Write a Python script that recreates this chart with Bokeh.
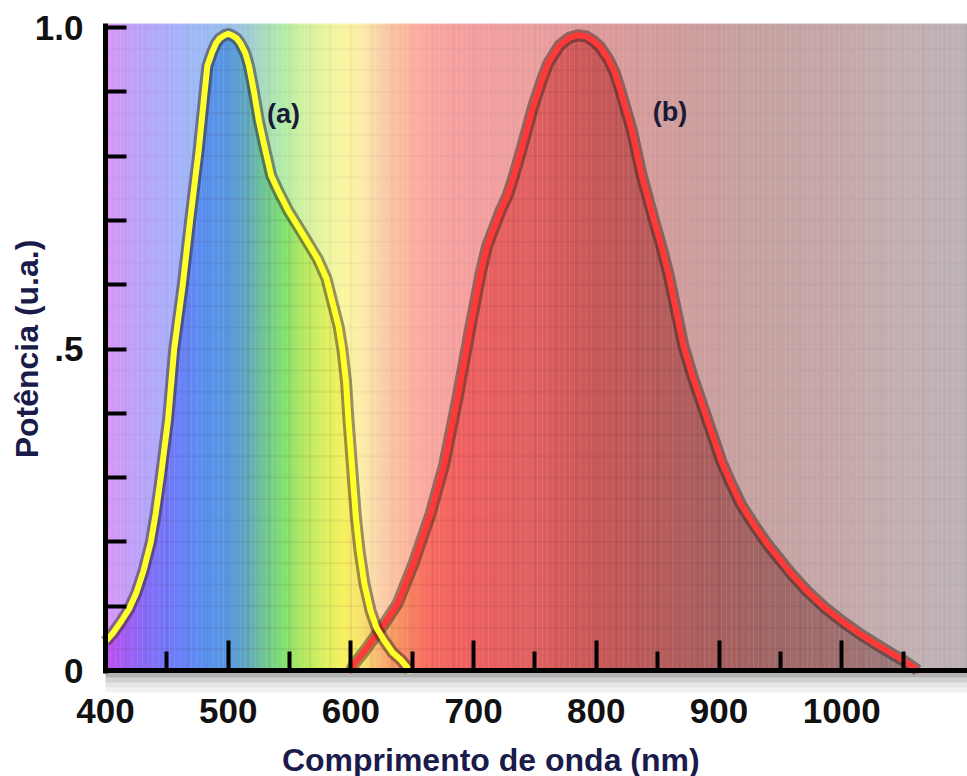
import numpy as np
from bokeh.plotting import figure
from bokeh.models import Range1d, FixedTicker, Label
from bokeh.embed import file_html
from bokeh.resources import INLINE

# ---------------- data ----------------
a_nm = [400, 406, 413, 419, 425, 431, 437, 441, 445, 451, 456, 463, 469, 476, 480, 483, 487, 490, 493, 497, 500,
        503, 507, 510, 514, 517, 521, 525, 529, 535, 541, 549, 559, 573, 580, 586, 590, 593, 596, 598, 600, 602,
        604, 607, 611, 616, 621, 627, 634, 641, 648]
a_pow = [0.045, 0.058, 0.077, 0.095, 0.12, 0.155, 0.20, 0.245, 0.30, 0.39, 0.50, 0.60, 0.70, 0.81, 0.885, 0.94, 0.962, 0.975, 0.983, 0.988, 0.99,
         0.988, 0.983, 0.975, 0.96, 0.94, 0.90, 0.855, 0.82, 0.77, 0.745, 0.715, 0.684, 0.64, 0.61, 0.565, 0.535, 0.50, 0.45, 0.39, 0.34, 0.29,
         0.24, 0.187, 0.135, 0.093, 0.066, 0.047, 0.028, 0.016, 0.0]

b_nm = [600, 603, 611, 619, 628, 638, 651, 665, 676, 687, 697, 706, 711, 717, 722, 728, 733, 739, 749, 756, 761, 770, 778, 785,
        792, 797, 803, 810, 815, 820, 829, 837, 847, 853, 859, 865, 871, 878, 886, 894, 902, 910, 918, 929, 940, 959, 972,
        986, 1000, 1014, 1028, 1041, 1050, 1057, 1062]
b_pow = [0.0, 0.011, 0.03, 0.051, 0.075, 0.104, 0.166, 0.244, 0.32, 0.425, 0.53, 0.62, 0.66, 0.69, 0.715, 0.74, 0.77, 0.81, 0.88, 0.92, 0.945, 0.972, 0.984, 0.988,
         0.986, 0.98, 0.97, 0.95, 0.93, 0.90, 0.84, 0.77, 0.70, 0.66, 0.615, 0.56, 0.505, 0.46, 0.415, 0.37, 0.325, 0.29, 0.258, 0.225, 0.195, 0.15, 0.123,
         0.098, 0.077, 0.058, 0.041, 0.026, 0.016, 0.007, 0.0]

x_ticks = [400, 500, 600, 700, 800, 900, 1000]
x_minor = [450, 550, 650, 750, 850, 950, 1050]
y_ticks = [0, 0.5, 1.0]
y_tick_text = ["0", ".5", "1.0"]
y_minor = [0.1, 0.2, 0.3, 0.4, 0.6, 0.7, 0.8, 0.9]

curve_names = ["(a)", "(b)"]
name_nm = [545, 860]
name_pow = [0.866, 0.869]

x_title = "Comprimento de onda (nm)"
y_title = "Potência (u.a.)"

# spectrum colour stops (style)
spec_nm = [400, 430, 460, 480, 500, 515, 530, 545, 560, 580, 595, 610, 625, 640, 660, 690,
           750, 800, 850, 900, 950, 1000, 1050, 1104]
spec_col = ["#c050f0", "#8a6af8", "#6a80f8", "#5a90f0", "#5898e0", "#60a8c0", "#70c890", "#80e070",
            "#b0e860", "#e0f060", "#f8f060", "#f8e070", "#f8b070", "#f89060", "#f87060", "#f06060",
            "#e06060", "#c85858", "#b85c5c", "#a86060", "#a06868", "#a07070", "#9c7c80", "#908088"]

# ---------------- layout (frame = whole canvas, axes pinned) ----------------
W, H = 967, 776
PX_NM = 1.227           # pixels per nm
PX_UNIT = 643.0         # pixels per unit of power
LEFT_PX, ZERO_PX = 105, 670
XS = 400 - LEFT_PX / PX_NM
XE = XS + W / PX_NM
YE = 1 + (ZERO_PX - PX_UNIT) / PX_UNIT
YS = -(H - ZERO_PX) / PX_UNIT
X0, X1 = 400, XE
Y0, Y1 = 0, 1.006
FONT = "Liberation Sans"
TITLE_COL = "#1b1b4b"

p = figure(width=W, height=H, output_backend="svg", toolbar_location=None,
           x_range=Range1d(XS, XE), y_range=Range1d(YS, YE),
           min_border=0, min_border_left=0, min_border_right=0, min_border_top=0, min_border_bottom=0)
p.outline_line_color = None
p.background_fill_color = "white"
p.border_fill_color = "white"
p.xgrid.visible = False
p.ygrid.visible = False

# spectrum background strips
rgb = np.array([[int(c[i:i + 2], 16) for i in (1, 3, 5)] for c in spec_col], dtype=float)
edges = np.arange(X0, X1 + 2, 2.0)
mids = (edges[:-1] + edges[1:]) / 2
cols = []
for m in mids:
    r, g, b = (np.interp(m, spec_nm, rgb[:, k]) for k in range(3))
    cols.append("#%02x%02x%02x" % (int(r), int(g), int(b)))
p.quad(left=edges[:-1], right=edges[1:] + 0.3, bottom=Y0, top=Y1, fill_color=cols, line_color=None)

# faint grid
gx = np.arange(X0, X1, 100 / 6)
p.segment(x0=gx, y0=Y0, x1=gx, y1=Y1, line_color="#402030", line_alpha=0.07, line_width=2)
gy = np.arange(0, Y1, 1 / 30)
p.segment(x0=X0, y0=gy, x1=X1, y1=gy, line_color="#402030", line_alpha=0.07, line_width=2)

# whitish veil above both curves
env_x = np.union1d(np.arange(X0, X1 + 1, 1.0), np.union1d(a_nm, b_nm))
env_x = env_x[env_x <= X1]
env_y = np.maximum(np.interp(env_x, a_nm, a_pow, left=0, right=0),
                   np.interp(env_x, b_nm, b_pow, left=0, right=0))
p.varea(x=env_x, y1=env_y, y2=Y1, fill_color="white", fill_alpha=0.4)

# soft shadow below the x axis
for k, al in enumerate([0.30, 0.18, 0.10, 0.05]):
    p.quad(left=X0, right=X1, top=-(2.0 + 5 * k) / PX_UNIT, bottom=-(7.0 + 5 * k) / PX_UNIT,
           fill_color="#000000", fill_alpha=al, line_color=None)

# curves with dark halo
for xs, ys, col in ((b_nm, b_pow, "#ff3838"), (a_nm, a_pow, "#ffff2a")):
    p.line(xs, ys, line_color="#2a1a10", line_alpha=0.45, line_width=12, line_join="round")
    p.line(xs, ys, line_color=col, line_width=6, line_join="round", line_cap="round")

for t, xx, yy in zip(curve_names, name_nm, name_pow):
    p.add_layout(Label(x=xx, y=yy, text=t, text_font=FONT, text_font_style="bold",
                       text_font_size="27px", text_color="#1a1a36",
                       text_align="center", text_baseline="middle"))

# axes (library axes, pinned at the data origin)
xa = p.xaxis[0]
xa.fixed_location = 0
xa.bounds = (X0 - 2, X1)
xa.ticker = FixedTicker(ticks=x_ticks, minor_ticks=x_minor)
xa.axis_line_width = 5
xa.axis_line_color = "black"
xa.major_tick_in = 30
xa.major_tick_out = 0
xa.minor_tick_in = 19
xa.minor_tick_out = 0
xa.major_tick_line_width = 4
xa.minor_tick_line_width = 4
xa.major_label_standoff = 28
xa.major_label_text_font = FONT
xa.major_label_text_font_style = "bold"
xa.major_label_text_font_size = "35px"
xa.major_label_text_color = "#111111"

ya = p.yaxis[0]
ya.fixed_location = 400
ya.bounds = (-0.004, Y1)
ya.ticker = FixedTicker(ticks=y_ticks, minor_ticks=y_minor)
ya.major_label_overrides = {v: s for v, s in zip(y_ticks, y_tick_text)}
ya.axis_line_width = 5
ya.axis_line_color = "black"
ya.major_tick_in = 21
ya.major_tick_out = 0
ya.minor_tick_in = 21
ya.minor_tick_out = 0
ya.major_tick_line_width = 4
ya.minor_tick_line_width = 4
ya.major_label_standoff = 22
ya.major_label_text_font = FONT
ya.major_label_text_font_style = "bold"
ya.major_label_text_font_size = "35px"
ya.major_label_text_color = "#111111"

# axis titles
p.add_layout(Label(x=714, y=-(741 - ZERO_PX) / PX_UNIT, text=x_title, text_font=FONT, text_font_style="bold",
                   text_font_size="32px", text_color=TITLE_COL,
                   text_align="center", text_baseline="top"))
p.add_layout(Label(x=XS + 26 / PX_NM, y=0.5, text=y_title, angle=90, angle_units="deg", text_font=FONT,
                   text_font_style="bold", text_font_size="32px", text_color=TITLE_COL,
                   text_align="center", text_baseline="middle"))

open("out.html", "w").write(file_html(p, INLINE))
